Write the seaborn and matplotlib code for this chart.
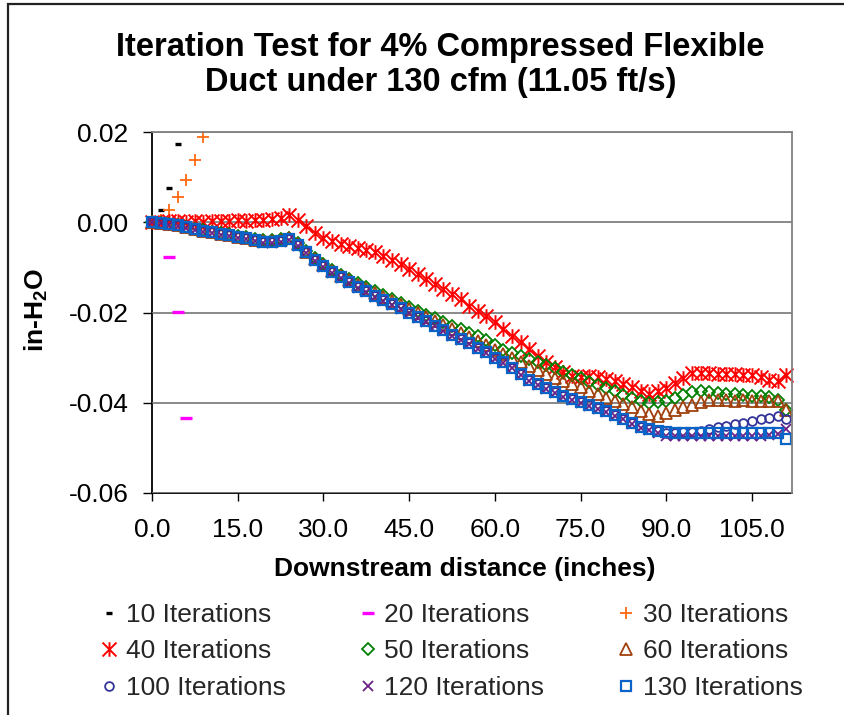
import matplotlib
matplotlib.use("Agg")
import matplotlib.pyplot as plt
import seaborn as sns
from matplotlib.path import Path
from matplotlib.patches import Rectangle

sns.set_theme(style="white")
plt.rcParams['font.family'] = ['Liberation Sans', 'DejaVu Sans']
plt.rcParams['axes.unicode_minus'] = False
plt.rcParams['mathtext.fontset'] = 'custom'
plt.rcParams['mathtext.rm'] = 'Liberation Sans:bold'
plt.rcParams['mathtext.bf'] = 'Liberation Sans:bold'

# ---------------- data ----------------
x_full = [0.0, 1.5, 3.0, 4.5, 6.0, 7.5, 9.0, 10.5, 12.0, 13.5, 15.0, 16.5, 18.0, 19.5,
          21.0, 22.5, 24.0, 25.5, 27.0, 28.5, 30.0, 31.5, 33.0, 34.5, 36.0, 37.5, 39.0,
          40.5, 42.0, 43.5, 45.0, 46.5, 48.0, 49.5, 51.0, 52.5, 54.0, 55.5, 57.0, 58.5,
          60.0, 61.5, 63.0, 64.5, 66.0, 67.5, 69.0, 70.5, 72.0, 73.5, 75.0, 76.5, 78.0,
          79.5, 81.0, 82.5, 84.0, 85.5, 87.0, 88.5, 90.0, 91.5, 93.0, 94.5, 96.0, 97.5,
          99.0, 100.5, 102.0, 103.5, 105.0, 106.5, 108.0, 109.5, 111.0]

x_10 = [0.0, 1.5, 3.0, 4.5]
y_10 = [0.0000, 0.0028, 0.0076, 0.0174]

x_20 = [0.0, 1.5, 3.0, 4.5, 6.0]
y_20 = [0.0000, -0.0008, -0.0077, -0.0199, -0.0434]

x_30 = [0.0, 1.5, 3.0, 4.5, 6.0, 7.5, 9.0]
y_30 = [0.0000, 0.0005, 0.0027, 0.0056, 0.0093, 0.0139, 0.0190]

y_40 = [0.0000, 0.0000, 0.0002, 0.0002, 0.0001, 0.0002, 0.0001, 0.0002, 0.0003, 0.0002,
        0.0004, 0.0003, 0.0006, 0.0005, 0.0008, 0.0010, 0.0017, 0.0006, -0.0009, -0.0024,
        -0.0035, -0.0042, -0.0049, -0.0053, -0.0057, -0.0062, -0.0067, -0.0074, -0.0084,
        -0.0093, -0.0103, -0.0114, -0.0125, -0.0137, -0.0148, -0.0159, -0.0171, -0.0185,
        -0.0196, -0.0207, -0.0222, -0.0237, -0.0251, -0.0266, -0.0281, -0.0296, -0.0310,
        -0.0321, -0.0332, -0.0340, -0.0342, -0.0341, -0.0342, -0.0348, -0.0352, -0.0359,
        -0.0366, -0.0373, -0.0380, -0.0375, -0.0368, -0.0357, -0.0346, -0.0334, -0.0333,
        -0.0335, -0.0337, -0.0337, -0.0337, -0.0338, -0.0339, -0.0342, -0.0349, -0.0352,
        -0.0338]

y_50 = [0.0000, -0.0001, -0.0003, -0.0006, -0.0010, -0.0014, -0.0018, -0.0021, -0.0024,
        -0.0027, -0.0031, -0.0033, -0.0038, -0.0040, -0.0040, -0.0038, -0.0035, -0.0047,
        -0.0063, -0.0080, -0.0093, -0.0106, -0.0116, -0.0126, -0.0135, -0.0144, -0.0153,
        -0.0162, -0.0171, -0.0180, -0.0188, -0.0197, -0.0205, -0.0213, -0.0221, -0.0229,
        -0.0237, -0.0245, -0.0253, -0.0261, -0.0273, -0.0282, -0.0289, -0.0296, -0.0303,
        -0.0310, -0.0317, -0.0324, -0.0331, -0.0338, -0.0346, -0.0353, -0.0360, -0.0368,
        -0.0375, -0.0382, -0.0389, -0.0396, -0.0400, -0.0399, -0.0396, -0.0390, -0.0383,
        -0.0377, -0.0375, -0.0376, -0.0378, -0.0380, -0.0381, -0.0383, -0.0385, -0.0386,
        -0.0388, -0.0393, -0.0415]

y_60 = [0.0000, -0.0001, -0.0004, -0.0007, -0.0011, -0.0015, -0.0019, -0.0022, -0.0025,
        -0.0028, -0.0032, -0.0034, -0.0039, -0.0042, -0.0042, -0.0040, -0.0036, -0.0049,
        -0.0065, -0.0082, -0.0095, -0.0109, -0.0119, -0.0129, -0.0139, -0.0148, -0.0157,
        -0.0166, -0.0175, -0.0184, -0.0193, -0.0202, -0.0211, -0.0219, -0.0228, -0.0237,
        -0.0246, -0.0254, -0.0263, -0.0272, -0.0283, -0.0293, -0.0301, -0.0310, -0.0319,
        -0.0328, -0.0337, -0.0345, -0.0352, -0.0359, -0.0366, -0.0374, -0.0381, -0.0389,
        -0.0396, -0.0403, -0.0410, -0.0418, -0.0426, -0.0429, -0.0423, -0.0416, -0.0410,
        -0.0404, -0.0398, -0.0395, -0.0394, -0.0395, -0.0396, -0.0395, -0.0396, -0.0396,
        -0.0396, -0.0396, -0.0415]

y_100 = [0.0000, -0.0001, -0.0004, -0.0007, -0.0011, -0.0015, -0.0020, -0.0022, -0.0026,
         -0.0028, -0.0033, -0.0035, -0.0040, -0.0043, -0.0043, -0.0042, -0.0037, -0.0050,
         -0.0066, -0.0083, -0.0097, -0.0111, -0.0122, -0.0133, -0.0143, -0.0153, -0.0163,
         -0.0172, -0.0181, -0.0191, -0.0200, -0.0210, -0.0219, -0.0229, -0.0239, -0.0249,
         -0.0258, -0.0268, -0.0278, -0.0288, -0.0300, -0.0310, -0.0322, -0.0336, -0.0349,
         -0.0359, -0.0368, -0.0377, -0.0385, -0.0392, -0.0398, -0.0405, -0.0411, -0.0419,
         -0.0427, -0.0435, -0.0445, -0.0453, -0.0458, -0.0463, -0.0466, -0.0466, -0.0465,
         -0.0464, -0.0462, -0.0458, -0.0454, -0.0451, -0.0447, -0.0444, -0.0440, -0.0437,
         -0.0433, -0.0430, -0.0437]

y_120 = [0.0000, -0.0002, -0.0006, -0.0009, -0.0013, -0.0017, -0.0022, -0.0024, -0.0028,
         -0.0030, -0.0035, -0.0037, -0.0042, -0.0045, -0.0045, -0.0044, -0.0039, -0.0052,
         -0.0068, -0.0085, -0.0099, -0.0113, -0.0124, -0.0135, -0.0145, -0.0155, -0.0165,
         -0.0174, -0.0183, -0.0193, -0.0202, -0.0212, -0.0221, -0.0231, -0.0241, -0.0251,
         -0.0260, -0.0270, -0.0280, -0.0290, -0.0302, -0.0312, -0.0324, -0.0338, -0.0351,
         -0.0361, -0.0370, -0.0379, -0.0387, -0.0394, -0.0400, -0.0407, -0.0413, -0.0421,
         -0.0429, -0.0437, -0.0447, -0.0455, -0.0461, -0.0468, -0.0473, -0.0474, -0.0474,
         -0.0474, -0.0474, -0.0474, -0.0474, -0.0474, -0.0474, -0.0474, -0.0474, -0.0474,
         -0.0472, -0.0470, -0.0459]

y_130 = [0.0000, -0.0001, -0.0004, -0.0007, -0.0011, -0.0015, -0.0020, -0.0022, -0.0026,
         -0.0028, -0.0033, -0.0035, -0.0040, -0.0043, -0.0043, -0.0042, -0.0037, -0.0050,
         -0.0066, -0.0083, -0.0097, -0.0111, -0.0122, -0.0133, -0.0143, -0.0153, -0.0163,
         -0.0172, -0.0181, -0.0191, -0.0200, -0.0210, -0.0219, -0.0229, -0.0239, -0.0249,
         -0.0258, -0.0268, -0.0278, -0.0288, -0.0300, -0.0310, -0.0322, -0.0336, -0.0349,
         -0.0359, -0.0368, -0.0377, -0.0385, -0.0392, -0.0398, -0.0405, -0.0411, -0.0419,
         -0.0427, -0.0435, -0.0445, -0.0453, -0.0458, -0.0463, -0.0465, -0.0466, -0.0466,
         -0.0466, -0.0466, -0.0466, -0.0466, -0.0466, -0.0466, -0.0466, -0.0466, -0.0466,
         -0.0466, -0.0466, -0.0481]

labels = ["10 Iterations", "20 Iterations", "30 Iterations", "40 Iterations",
          "50 Iterations", "60 Iterations", "100 Iterations", "120 Iterations",
          "130 Iterations"]
x_ticks = [0, 15, 30, 45, 60, 75, 90, 105]
y_ticks = [-0.06, -0.04, -0.02, 0.00, 0.02]

# ---------------- styles ----------------
star = Path([(-1, -1), (1, 1), (-1, 1), (1, -1), (0, -1.05), (0, 1.05)],
            [Path.MOVETO, Path.LINETO, Path.MOVETO, Path.LINETO, Path.MOVETO, Path.LINETO])

styles = [
    dict(marker='_', markersize=4.5, markeredgewidth=2.4, color='#000000', markerfacecolor='none'),
    dict(marker='_', markersize=8.0, markeredgewidth=2.4, color='#FF00FF', markerfacecolor='none'),
    dict(marker='+', markersize=8.0, markeredgewidth=1.3, color='#FF6A10', markerfacecolor='none'),
    dict(marker=star, markersize=10.5, markeredgewidth=1.4, color='#FF0000', markerfacecolor='none'),
    dict(marker='D', markersize=5.8, markeredgewidth=1.3, color='#008000', markerfacecolor='none'),
    dict(marker='^', markersize=8.0, markeredgewidth=1.3, color='#A0410D', markerfacecolor='none'),
    dict(marker='o', markersize=6.3, markeredgewidth=1.3, color='#333399', markerfacecolor='none'),
    dict(marker='x', markersize=7.8, markeredgewidth=1.3, color='#6B2085', markerfacecolor='none'),
    dict(marker='s', markersize=7.0, markeredgewidth=1.6, color='#0A64C8', markerfacecolor='none'),
]

xs = [x_10, x_20, x_30, x_full, x_full, x_full, x_full, x_full, x_full]
ys = [y_10, y_20, y_30, y_40, y_50, y_60, y_100, y_120, y_130]

# ---------------- figure ----------------
W, H = 845, 715
fig = plt.figure(figsize=(W / 100, H / 100), dpi=100, facecolor='white')
L, R, T, B = 152, 792, 132, 493
ax = fig.add_axes([L / W, 1 - B / H, (R - L) / W, (B - T) / H])
ax.set_facecolor('white')

handles = []
for lab, xv, yv, st in zip(labels, xs, ys, styles):
    c = st['color']
    sns.lineplot(x=xv, y=yv, ax=ax, label=lab, linestyle='none', sort=False,
                 errorbar=None, markeredgecolor=c, clip_on=False, legend=False, **st)
    handles.append(ax.get_lines()[-1])

ax.set_xlim(0, 112)
ax.set_ylim(-0.06, 0.02)
ax.set_xticks(x_ticks)
ax.set_xticklabels([f"{v:.1f}" for v in x_ticks])
ax.set_yticks(y_ticks)
ax.set_yticklabels([f"{v:.2f}" if v != 0 else "0.00" for v in y_ticks])

ax.set_axisbelow(True)
ax.yaxis.grid(True, color='#808080', linewidth=1.3)
ax.xaxis.grid(False)
for s in ['top', 'right']:
    ax.spines[s].set_color('#808080')
    ax.spines[s].set_linewidth(1.3)
for s in ['left', 'bottom']:
    ax.spines[s].set_color('black')
    ax.spines[s].set_linewidth(1.3)
    ax.spines[s].set_zorder(0.5)

ax.tick_params(axis='both', which='major', direction='out', labelsize=19,
               color='black', width=1, bottom=True, left=True, labelcolor='black')
ax.tick_params(axis='y', length=6.5, pad=10.5)
ax.tick_params(axis='x', length=6.0, pad=12)

ax.set_xlabel("Downstream distance (inches)", fontsize=19, fontweight='bold', color='black')
ax.xaxis.set_label_coords((465 - L) / (R - L), (B - 557) / (B - T))
ax.xaxis.label.set_va('top')
ax.set_ylabel("in-H$_\\mathregular{2}$O", fontsize=19, fontweight='bold', color='black')
ax.yaxis.set_label_coords((36 - L) / (R - L), (B - 310) / (B - T))
ax.yaxis.label.set_va('center')

fig.text(440 / W, 1 - 56 / H, "Iteration Test for 4% Compressed Flexible",
         ha='center', va='baseline', fontsize=23.5, fontweight='bold', color='black')
fig.text(441 / W, 1 - 91 / H, "Duct under 130 cfm (11.05 ft/s)",
         ha='center', va='baseline', fontsize=23.5, fontweight='bold', color='black')

order = [0, 3, 6, 1, 4, 7, 2, 5, 8]
leg = ax.legend([handles[i] for i in order], [labels[i] for i in order], ncol=3,
                loc='upper left', bbox_to_anchor=(98.4 / W, 1 - 603 / H),
                bbox_transform=fig.transFigure, frameon=False, fontsize=19,
                handlelength=0.8, handletextpad=0.24, columnspacing=2.7,
                labelspacing=0.47, borderpad=0, borderaxespad=0, numpoints=1)

fig.add_artist(Rectangle((8 / W, -1), 5, 1 + (1 - 4 / H), transform=fig.transFigure,
                         fill=False, edgecolor='#222222', linewidth=1.6, clip_on=False))

fig.savefig("out.png", dpi=100, facecolor='white')
